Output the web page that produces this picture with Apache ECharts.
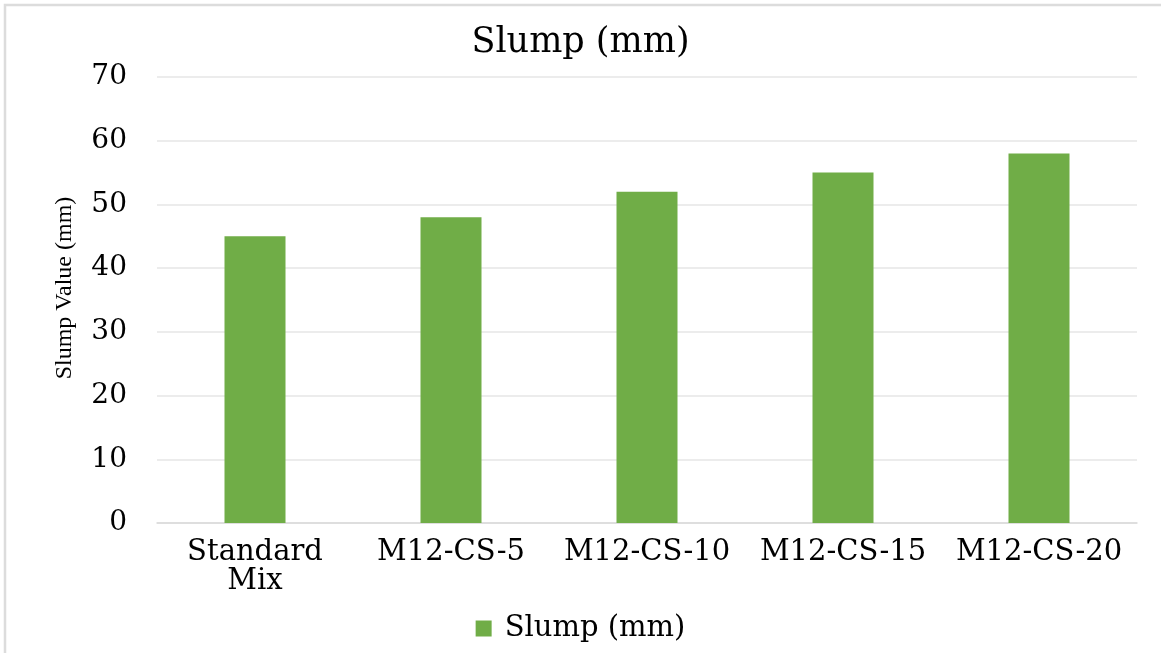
<!DOCTYPE html>
<html>
<head>
<meta charset="utf-8">
<script src="https://cdn.jsdelivr.net/npm/echarts@6/dist/echarts.min.js"></script>
<style>
html,body{margin:0;padding:0;background:#fff;}
#chart{width:1161px;height:653px;}
</style>
</head>
<body>
<div id="chart"></div>
<script>
const categories = ['Standard\nMix', 'M12-CS-5', 'M12-CS-10', 'M12-CS-15', 'M12-CS-20'];
const slumpValues = [45, 48, 52, 55, 58];
const seriesName = 'Slump (mm)';
const chartTitle = 'Slump (mm)';
const yAxisName = 'Slump Value (mm)';

const serif = '"DejaVu Serif", "Liberation Serif", serif';
const chart = echarts.init(document.getElementById('chart'));
chart.setOption({
  backgroundColor: '#fff',
  animation: false,
  title: {
    text: chartTitle,
    left: 'center',
    top: 20,
    textStyle: { fontFamily: serif, fontSize: 35, fontWeight: 'normal', color: '#000' }
  },
  legend: {
    data: [seriesName],
    bottom: 5,
    left: 'center',
    itemWidth: 16,
    itemHeight: 16,
    itemGap: 8,
    icon: 'rect',
    textStyle: { fontFamily: serif, fontSize: 29, color: '#000', padding: [0, 0, 0, 8] }
  },
  grid: { left: 157, right: 24, top: 77, bottom: 130, containLabel: false },
  xAxis: {
    type: 'category',
    data: categories,
    axisLine: { lineStyle: { color: '#d9d9d9', width: 1.5 } },
    axisTick: { show: false },
    axisLabel: { fontFamily: serif, fontSize: 29, color: '#000', margin: 15, lineHeight: 29, interval: 0 }
  },
  yAxis: {
    type: 'value',
    min: 0,
    max: 70,
    interval: 10,
    name: yAxisName,
    nameLocation: 'middle',
    nameGap: 80,
    nameTextStyle: { fontFamily: '"Liberation Serif", serif', fontSize: 24, color: '#000', padding: [0, 0, 0, 24] },
    axisLine: { show: false },
    axisTick: { show: false },
    splitLine: { lineStyle: { color: '#e6e6e6', width: 1.5 } },
    axisLabel: { fontFamily: serif, fontSize: 28, color: '#000', margin: 30 }
  },
  series: [{
    name: seriesName,
    type: 'bar',
    data: slumpValues,
    barWidth: 61,
    itemStyle: { color: '#70AD47' }
  }],
  graphic: [{
    type: 'polyline',
    shape: { points: [[5, 653], [5, 5], [1161, 5]] },
    style: { fill: 'none', stroke: '#dcdcdc', lineWidth: 2.5 },
    silent: true
  }]
});
</script>
</body>
</html>
